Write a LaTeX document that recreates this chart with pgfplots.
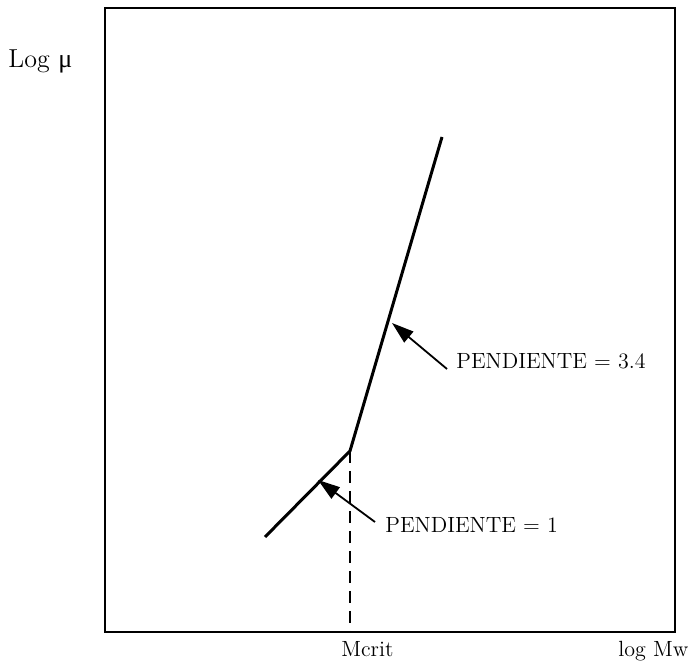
\documentclass[border=0pt]{standalone}
\usepackage{fontspec}
\newfontfamily\grk{Liberation Serif}
\usepackage{pgfplots}
\pgfplotsset{compat=1.18}
\usetikzlibrary{arrows.meta}
\tikzset{lbl/.style={anchor=base west, inner sep=0pt, font=\fontsize{11}{13}\selectfont}}
\begin{document}
\begin{tikzpicture}
\begin{axis}[
  x=0.5pt, y=0.5pt,
  xmin=105, xmax=675, ymin=32, ymax=656,
  xtick=\empty, ytick=\empty,
  axis line style={line width=1pt},
  clip=false,
]
\path (axis cs:0,0) rectangle (axis cs:698,664);
\addplot[black, line width=1.5pt] coordinates {(265,127) (350,213) (442,527)};
\addplot[black, line width=0.9pt, dash pattern=on 6pt off 4pt] coordinates {(350,213) (350,32)};
\addplot[black, line width=0.9pt, -{Triangle[length=11pt,width=7pt]}] coordinates {(375,142) (318,184)};
\addplot[black, line width=0.9pt, -{Triangle[length=11pt,width=7pt]}] coordinates {(447,295) (392,341)};
\node[lbl] at (axis cs:385,131) {PENDIENTE = 1};
\node[lbl] at (axis cs:456,295) {PENDIENTE = 3.4};
\node[lbl, font=\fontsize{13}{15}\selectfont] at (axis cs:8,596) {Log {\grk μ}};
\node[lbl] at (axis cs:341,7) {Mcrit};
\node[lbl] at (axis cs:618,7) {log Mw};
\end{axis}
\end{tikzpicture}
\end{document}
